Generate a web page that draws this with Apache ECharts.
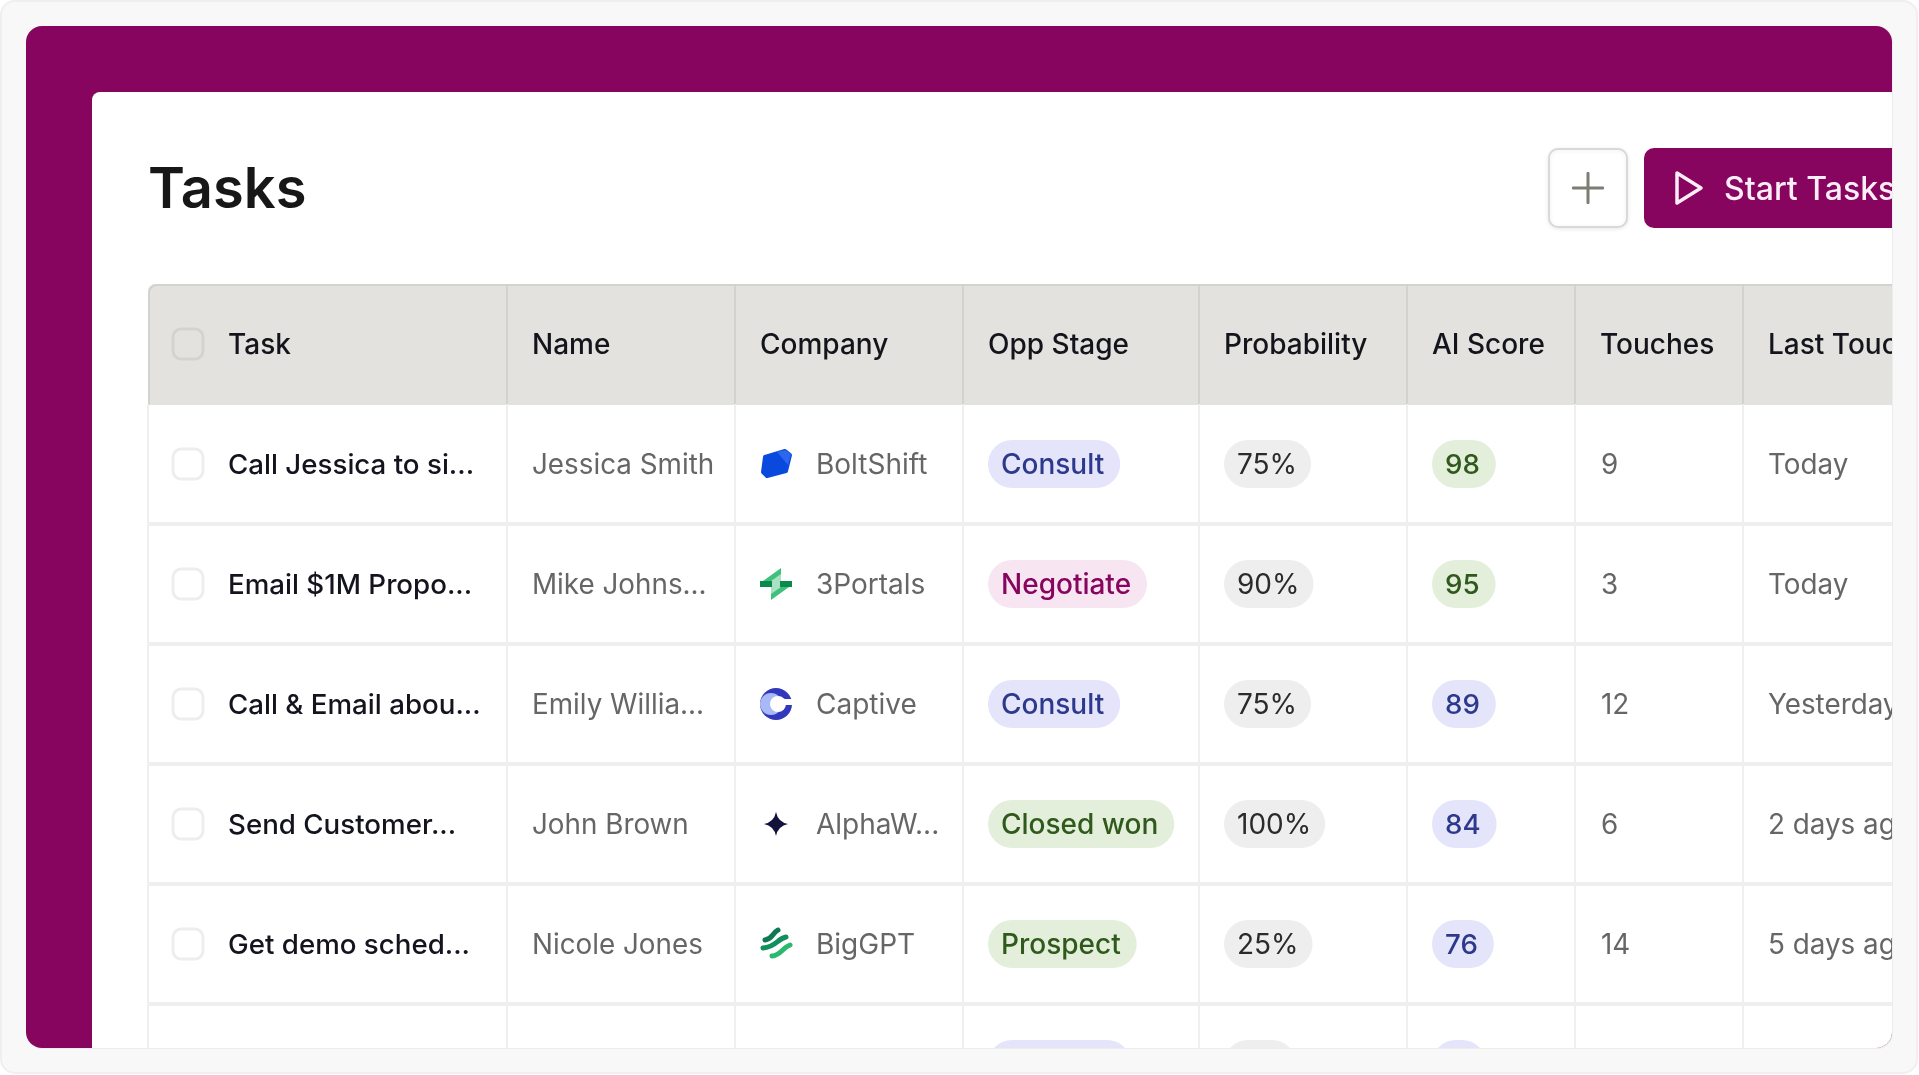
<!DOCTYPE html>
<html>
<head>
<meta charset="utf-8">
<title>Tasks</title>
<style>
  html, body { margin: 0; padding: 0; background: #fff; }
  #main { width: 1919px; height: 1075px; }
</style>
<script src="https://cdn.jsdelivr.net/npm/echarts@6/dist/echarts.min.js"></script>
</head>
<body>
<div id="main"></div>
<script>
const headers = ['Task', 'Name', 'Company', 'Opp Stage', 'Probability', 'AI Score', 'Touches', 'Last Touch'];
const tasks = ['Call Jessica to si...', 'Email $1M Propo...', 'Call & Email abou...', 'Send Customer...', 'Get demo sched...'];
const names = ['Jessica Smith', 'Mike Johns...', 'Emily Willia...', 'John Brown', 'Nicole Jones'];
const companies = ['BoltShift', '3Portals', 'Captive', 'AlphaW...', 'BigGPT'];
const stages = ['Consult', 'Negotiate', 'Consult', 'Closed won', 'Prospect'];
const probabilities = ['75%', '90%', '75%', '100%', '25%'];
const aiScores = [98, 95, 89, 84, 76];
const touches = [9, 3, 12, 6, 14];
const lastTouches = ['Today', 'Today', 'Yesterday', '2 days ago', '5 days ago'];

// the row cut off by the bottom of the card: only the tops of its pills show
const cutRowPillWidths = [143, 72, 54];

const rowKeys = ['header', 'r1', 'r2', 'r3', 'r4', 'r5', 'r6'];
const columnEdges = [148, 507, 735, 963, 1199, 1407, 1575, 1743];
const textX = [228, 532, 816, 988, 1224, 1432, 1601, 1768];

const CARD = { x: 26, y: 26, width: 1866, height: 1022, r: 16 };
const MAGENTA = '#88055f';
const stageStyle = {
  'Consult': ['#e4e4fa', '#2d3a8c'],
  'Negotiate': ['#f7e6f2', '#88055f'],
  'Closed won': ['#e3eedb', '#2f5a1c'],
  'Prospect': ['#e3eedb', '#2f5a1c']
};
const FONT = 'Inter, "Noto Sans", sans-serif';
const measure = document.createElement('canvas').getContext('2d');

function label(x, y, text, font, fill) {
  return {
    type: 'text',
    style: { x, y, text: String(text), font: font + ' ' + FONT, fill, align: 'left', verticalAlign: 'middle' }
  };
}

function pill(x, y, text, font, bg, fill, padRight) {
  measure.font = font + ' ' + FONT;
  const width = 13 + measure.measureText(String(text)).width + padRight;
  return {
    type: 'group',
    children: [
      { type: 'rect', shape: { x, y: y - 24, width, height: 48, r: 24 }, style: { fill: bg } },
      label(x + 13, y + 2, text, font, fill)
    ]
  };
}

function checkbox(x, y, bg, border) {
  return {
    type: 'rect',
    shape: { x: x - 15, y: y - 15, width: 30, height: 30, r: 8 },
    style: { fill: bg, stroke: border, lineWidth: 3 }
  };
}

function icon(i, y) {
  const kids = {
    0: [
      { type: 'polygon', shape: { points: [[5, 9], [25, 3], [30, 7], [26, 23], [7, 28], [3, 24]] }, style: { fill: '#0a49de', stroke: '#0a49de', lineWidth: 4, lineJoin: 'round' } },
      { type: 'polygon', shape: { points: [[17, 4], [25, 2], [31, 6], [28, 17]] }, style: { fill: '#2b66ee' } }
    ],
    1: [
      { type: 'polygon', shape: { points: [[3, 13], [21, 0], [21, 13]] }, style: { fill: '#3fc07c' } },
      { type: 'polygon', shape: { points: [[11, 19], [29, 19], [11, 32]] }, style: { fill: '#3fc07c' } },
      { type: 'polygon', shape: { points: [[11, 13], [21, 6], [21, 19], [11, 26]] }, style: { fill: '#a8e2c0' } },
      { type: 'rect', shape: { x: 0, y: 13, width: 12, height: 6 }, style: { fill: '#0b8a4d' } },
      { type: 'rect', shape: { x: 20, y: 13, width: 12, height: 6 }, style: { fill: '#0b8a4d' } }
    ],
    2: [
      { type: 'circle', shape: { cx: 16, cy: 16, r: 16 }, style: { fill: '#3039bd' } },
      { type: 'circle', shape: { cx: 11, cy: 16, r: 11 }, style: { fill: '#a9b9f7' } },
      { type: 'circle', shape: { cx: 18, cy: 16, r: 8 }, style: { fill: '#fff' } },
      { type: 'rect', shape: { x: 22, y: 11, width: 10, height: 6 }, style: { fill: '#fff' } }
    ],
    3: [
      { type: 'path', shape: { pathData: 'M12 0Q14 10 24 12Q14 14 12 24Q10 14 0 12Q10 10 12 0Z', x: 4, y: 4, width: 24, height: 24, layout: 'cover' }, style: { fill: '#12123a' } }
    ],
    4: [
      { type: 'bezierCurve', shape: { x1: 5, y1: 12, cpx1: 13, cpy1: 11, cpx2: 12, cpy2: 5, x2: 18, y2: 2 }, style: { stroke: '#0d7a52', lineWidth: 5, lineCap: 'round', fill: 'none' } },
      { type: 'bezierCurve', shape: { x1: 3, y1: 20, cpx1: 16, cpy1: 19, cpx2: 17, cpy2: 11, x2: 26, y2: 9 }, style: { stroke: '#10905f', lineWidth: 5, lineCap: 'round', fill: 'none' } },
      { type: 'bezierCurve', shape: { x1: 12, y1: 28, cpx1: 21, cpy1: 27, cpx2: 22, cpy2: 20, x2: 30, y2: 17 }, style: { stroke: '#2cb96d', lineWidth: 5, lineCap: 'round', fill: 'none' } }
    ]
  };
  return { type: 'group', x: 760, y: y - 16, children: kids[i] };
}

function clipped(children) {
  return {
    type: 'group',
    clipPath: { type: 'rect', shape: CARD },
    children
  };
}

function renderFrame(params, api) {
  const midY = api.coord([0, 0.5])[1] - 156;
  return {
    type: 'group',
    children: [
      { type: 'rect', shape: { x: 1, y: 1, width: 1916, height: 1072, r: 14 }, style: { fill: '#f8f8f8', stroke: '#efefef', lineWidth: 2 } },
      { type: 'rect', shape: { x: CARD.x, y: CARD.y, width: CARD.width + 1, height: CARD.height + 1, r: 16 }, style: { fill: '#ececec' } },
      clipped([
        { type: 'rect', shape: { x: 26, y: 26, width: 1867, height: 1022 }, style: { fill: MAGENTA } },
        { type: 'rect', shape: { x: 92, y: 92, width: 1801, height: 956, r: [8, 0, 0, 0] }, style: { fill: '#fff' } },
        label(148, midY + 3, 'Tasks', '600 56px', '#171717'),
        { type: 'rect', shape: { x: 1549, y: 149, width: 78, height: 78, r: 9 }, style: { fill: '#fff', stroke: '#d9d9d5', lineWidth: 2, shadowBlur: 4, shadowOffsetY: 1, shadowColor: 'rgba(0,0,0,.08)' } },
        { type: 'rect', shape: { x: 1572, y: 186.5, width: 32, height: 3, r: 1 }, style: { fill: '#7d7d72' } },
        { type: 'rect', shape: { x: 1586.5, y: 172, width: 3, height: 32, r: 1 }, style: { fill: '#7d7d72' } },
        { type: 'rect', shape: { x: 1644, y: 148, width: 280, height: 80, r: 10 }, style: { fill: MAGENTA } },
        { type: 'polygon', shape: { points: [[1677, 173], [1701, 188], [1677, 203]] }, style: { fill: 'none', stroke: '#fbeef6', lineWidth: 3.5, lineJoin: 'round' } },
        label(1724, midY + 2, 'Start Tasks', '500 32px', '#fbeef6')
      ])
    ]
  };
}

function renderRow(params, api) {
  const row = api.value(1);
  const y = api.coord([0, row + 0.5])[1];
  const band = api.size([0, 1])[1];
  const top = y - band / 2;
  const bottom = y + band / 2;
  const kids = [];

  if (row === 0) {
    kids.push(
      { type: 'rect', shape: { x: 148, y: top, width: 1780, height: band + 1, r: [8, 0, 0, 0] }, style: { fill: '#d2d2ce' } },
      { type: 'rect', shape: { x: 150, y: top + 2, width: 1780, height: band - 1, r: [7, 0, 0, 0] }, style: { fill: '#e3e2de' } }
    );
    columnEdges.slice(1).forEach(function (x) {
      kids.push({ type: 'rect', shape: { x: x - 1, y: top + 2, width: 2, height: band - 1 }, style: { fill: '#d2d2ce' } });
    });
    kids.push(checkbox(188, y, '#e3e2de', '#d3d3cf'));
    headers.forEach(function (h, c) {
      const x = c === 0 ? textX[0] : columnEdges[c] + 25;
      kids.push(label(x, y + 2, h, '500 28px', '#14141c'));
    });
    return clipped(kids);
  }

  columnEdges.forEach(function (x) {
    kids.push({ type: 'rect', shape: { x: x - 1, y: top, width: 2, height: band }, style: { fill: '#efefef' } });
  });
  kids.push({ type: 'rect', shape: { x: 148, y: bottom - 2, width: 1780, height: 4 }, style: { fill: '#efefef' } });

  const i = row - 1;
  if (i >= tasks.length) {
    const bgs = ['#e4e4fa', '#eeeeee', '#e4e4fa'];
    cutRowPillWidths.forEach(function (w, k) {
      kids.push({ type: 'rect', shape: { x: textX[3 + k], y: y - 24, width: w, height: 48, r: 24 }, style: { fill: bgs[k] } });
    });
    return clipped(kids);
  }

  const stage = stageStyle[stages[i]];
  const scoreGreen = aiScores[i] >= 95;
  kids.push(
    checkbox(188, y, '#fff', '#eeeeee'),
    label(textX[0], y + 2, tasks[i], '500 27.7px', '#14141f'),
    label(textX[1], y + 2, names[i], '400 27.8px', '#666666'),
    icon(i, y),
    label(textX[2], y + 2, companies[i], '400 28px', '#666666'),
    pill(textX[3], y, stages[i], '500 28px', stage[0], stage[1], 16),
    pill(textX[4], y, probabilities[i], '400 28px', '#eeeeee', '#2b2b2b', 14),
    pill(textX[5], y, aiScores[i], '500 27.7px', scoreGreen ? '#e3eedb' : '#e4e4fa', scoreGreen ? '#2f5a1c' : '#2d3a8c', 16),
    label(textX[6], y + 2, touches[i], '400 27.8px', '#666666'),
    label(textX[7], y + 2, lastTouches[i], '400 27.8px', '#666666')
  );
  return clipped(kids);
}

const chart = echarts.init(document.getElementById('main'), null, { renderer: 'canvas' });
chart.setOption({
  animation: false,
  backgroundColor: '#fff',
  grid: { left: 0, top: 284, width: 1919, height: 791 },
  xAxis: { type: 'value', min: 0, max: 1919, show: false },
  // one unit on this axis is one table row, 120px tall
  yAxis: { type: 'value', min: 0, max: 791 / 120, inverse: true, show: false },
  tooltip: { show: false },
  series: [
    {
      type: 'custom',
      z: 1,
      silent: true,
      clip: false,
      renderItem: renderFrame,
      data: [[0, 0]]
    },
    {
      type: 'custom',
      z: 2,
      silent: true,
      clip: false,
      renderItem: renderRow,
      data: rowKeys.map(function (k, i) { return [0, i]; })
    }
  ]
});
</script>
</body>
</html>
